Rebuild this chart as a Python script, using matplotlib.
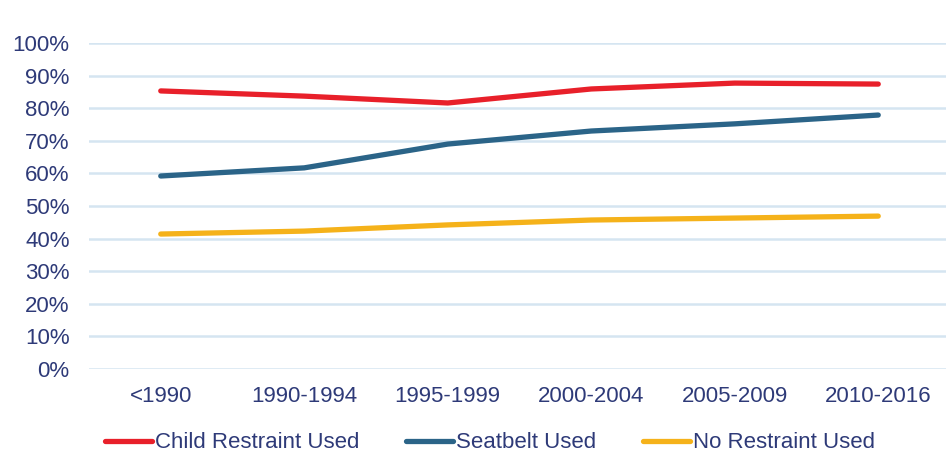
import matplotlib
matplotlib.use("Agg")
import matplotlib.pyplot as plt
from matplotlib.ticker import FuncFormatter, MultipleLocator

categories = ["<1990", "1990-1994", "1995-1999", "2000-2004", "2005-2009", "2010-2016"]
child_restraint = [85.3, 83.7, 81.6, 85.9, 87.7, 87.4]
seatbelt = [59.2, 61.7, 69.0, 73.0, 75.2, 77.9]
no_restraint = [41.4, 42.3, 44.2, 45.7, 46.3, 46.9]

W, H = 946, 455
fig = plt.figure(figsize=(W/100, H/100), dpi=100)
plt.rcParams['font.family'] = ['Liberation Sans', 'DejaVu Sans']
ax = fig.add_axes([89/W, 1-369/H, (950-89)/W, (369-43)/H])

text_col = "#2E3A78"
x = list(range(len(categories)))
ax.plot(x, child_restraint, color="#E8202A", lw=3.8, solid_capstyle="round", label="Child Restraint Used", zorder=3)
ax.plot(x, seatbelt, color="#2B6488", lw=3.8, solid_capstyle="round", label="Seatbelt Used", zorder=3)
ax.plot(x, no_restraint, color="#F5B21A", lw=3.8, solid_capstyle="round", label="No Restraint Used", zorder=3)

ax.set_xlim(-0.5, 5.5)
ax.set_ylim(0, 100)
ax.yaxis.set_major_locator(MultipleLocator(10))
ax.yaxis.set_major_formatter(FuncFormatter(lambda v, p: f"{int(round(v))}%"))
ax.set_xticks(x)
ax.set_xticklabels(categories)
ax.grid(axis="y", color="#D5E5F1", lw=1.8)
ax.set_axisbelow(True)
for s in ax.spines.values():
    s.set_visible(False)
ax.tick_params(axis="both", length=0, labelsize=16, labelcolor=text_col)
ax.tick_params(axis="y", pad=14)
ax.tick_params(axis="x", pad=12)

leg = fig.legend(loc="center", bbox_to_anchor=(490/W, 1-443/H), ncol=3, frameon=False,
                 fontsize=16, handlelength=2.1, handletextpad=0.15, columnspacing=2.1)
for t in leg.get_texts():
    t.set_color(text_col)

fig.savefig("out.png", dpi=100)
